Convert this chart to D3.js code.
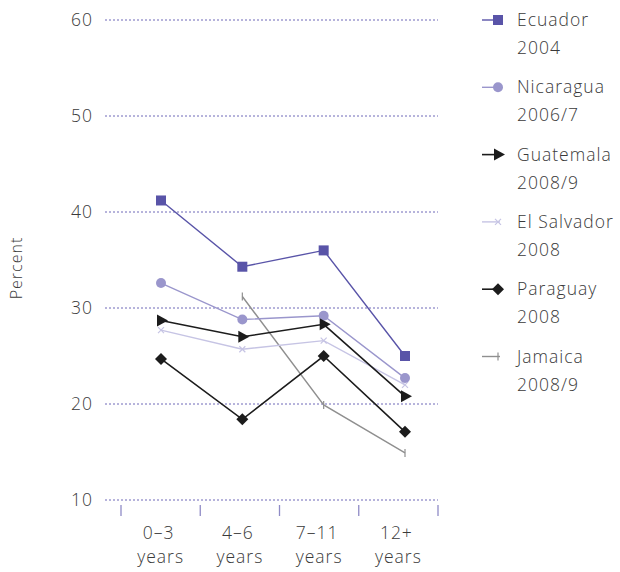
<!DOCTYPE html>
<html><head><meta charset="utf-8">
<script src="https://cdn.jsdelivr.net/npm/d3@7"></script>
<style>body{margin:0;background:#fff;} svg{display:block;} text{font-family:"Open Sans","Noto Sans",sans-serif;font-weight:300;letter-spacing:1px;}</style>
</head><body><svg id="c" width="620" height="572"></svg>
<script>
const categories = ["0–3|years","4–6|years","7–11|years","12+|years"];
const yTicks = [10,20,30,40,50,60];
const seriesNames = ["Ecuador|2004","Nicaragua|2006/7","Guatemala|2008/9","El Salvador|2008","Paraguay|2008","Jamaica|2008/9"];
const ecuador = [41.2,34.3,36.0,25.0];
const nicaragua = [32.6,28.8,29.2,22.7];
const guatemala = [28.7,27.0,28.3,20.8];
const elSalvador = [27.7,25.7,26.6,22.0];
const paraguay = [24.7,18.4,25.0,17.1];
const jamaica = [null,31.2,19.9,14.9];
const seriesValues = [ecuador,nicaragua,guatemala,elSalvador,paraguay,jamaica];
const colors = ["#5954a8","#9a96cc","#1c1c1c","#c6c4e4","#1c1c1c","#8f8f8f"];
const markers = ["square","circle","triangle","cross","diamond","tick"];

const svg = d3.select("#c");
const y = d3.scaleLinear().domain([10,60]).range([500,20]);
const xBand = d3.scaleBand().domain(categories).range([121,438]);
const xPt = d3.scalePoint().domain(categories).range([161,405]);

svg.append("g").selectAll("line").data(yTicks).join("line")
  .attr("x1",105).attr("x2",438).attr("y1",d=>y(d)).attr("y2",d=>y(d))
  .attr("stroke","#6e68b8").attr("stroke-width",1).attr("stroke-dasharray","2,2");
svg.append("g").selectAll("text").data(yTicks).join("text")
  .attr("x",93).attr("y",d=>y(d)).attr("dy","0.35em").attr("text-anchor","end")
  .attr("font-size",17.5).attr("fill","#3a3a3a").text(d=>d);
svg.append("text").attr("transform","translate(22,268) rotate(-90)").attr("text-anchor","middle")
  .attr("font-size",16).attr("fill","#3a3a3a").text("Percent");
const tickPos = categories.map(c=>xBand(c)).concat([xBand.range()[1]]);
svg.append("g").selectAll("line").data(tickPos).join("line")
  .attr("x1",d=>d).attr("x2",d=>d).attr("y1",505).attr("y2",516)
  .attr("stroke","#8f8bc6").attr("stroke-width",1.3);
const xl = svg.append("g").selectAll("text").data(categories).join("text")
  .attr("x",d=>xBand(d)+xBand.bandwidth()/2).attr("text-anchor","middle")
  .attr("font-size",17.5).attr("fill","#3a3a3a");
xl.append("tspan").attr("x",d=>xBand(d)+xBand.bandwidth()/2-2).attr("y",539).text(d=>d.split("|")[0]);
xl.append("tspan").attr("x",d=>xBand(d)+xBand.bandwidth()/2).attr("y",563).text(d=>d.split("|")[1]);

function drawMarker(g, type, color){
  if(type==="square") g.append("rect").attr("x",-5).attr("y",-5).attr("width",10).attr("height",10).attr("fill",color);
  else if(type==="circle") g.append("circle").attr("r",5).attr("fill",color);
  else if(type==="triangle") g.append("path").attr("d","M-4,-6L7,0L-4,6Z").attr("fill",color);
  else if(type==="diamond") g.append("path").attr("d","M0,-6L6,0L0,6L-6,0Z").attr("fill",color);
  else if(type==="cross") g.append("path").attr("d","M-3,-3L3,3M-3,3L3,-3").attr("stroke",color).attr("stroke-width",1.2);
  else if(type==="tick") g.append("path").attr("d","M0,-4L0,4").attr("stroke",color).attr("stroke-width",1.2);
}

const line = d3.line().defined(d=>d.v!=null).x(d=>xPt(d.c)).y(d=>y(d.v));
const order = [5,3,1,4,2,0];
order.forEach(i=>{
  const data = seriesValues[i].map((v,j)=>({c:categories[j],v}));
  const g = svg.append("g");
  g.append("path").datum(data).attr("d",line).attr("fill","none")
    .attr("stroke",colors[i]).attr("stroke-width",i===2||i===4?1.6:1.4);
  data.filter(d=>d.v!=null).forEach(d=>{
    const m = g.append("g").attr("transform",`translate(${xPt(d.c)},${y(d.v)})`);
    drawMarker(m, markers[i], colors[i]);
  });
});

seriesNames.forEach((n,i)=>{
  const top = 20 + i*67.3;
  const g = svg.append("g").attr("transform",`translate(0,${top})`);
  g.append("line").attr("x1",482).attr("x2",500).attr("y1",0).attr("y2",0)
    .attr("stroke",colors[i]).attr("stroke-width",i===2||i===4?1.6:1.4);
  const m = g.append("g").attr("transform","translate(498,0)");
  drawMarker(m, markers[i], colors[i]);
  const t = g.append("text").attr("font-size",17.5).attr("fill","#3a3a3a");
  t.append("tspan").attr("x",517).attr("y",6).text(n.split("|")[0]);
  t.append("tspan").attr("x",517).attr("y",34).text(n.split("|")[1]);
});
</script></body></html>
